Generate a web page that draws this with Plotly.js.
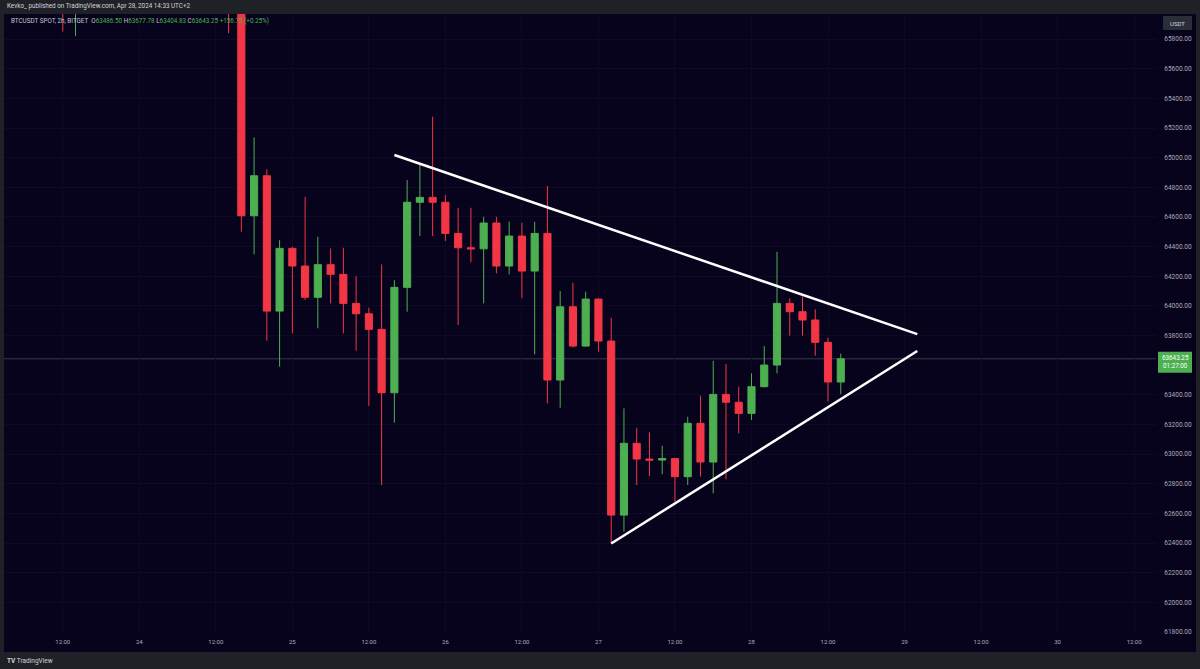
<!DOCTYPE html>
<html>
<head>
<meta charset="utf-8">
<script src="https://cdn.plot.ly/plotly-3.0.1.min.js"></script>
<style>html,body{margin:0;padding:0;background:#202127;}#chart{width:1200px;height:669px;}</style>
</head>
<body>
<div id="chart"></div>
<script>
// ---- data (BTCUSDT spot, 2h, Bitget) ----
const times = [
  '2024-04-23 12:00','2024-04-23 14:00','2024-04-24 14:00',
  '2024-04-24 16:00','2024-04-24 18:00','2024-04-24 20:00','2024-04-24 22:00',
  '2024-04-25 00:00','2024-04-25 02:00','2024-04-25 04:00','2024-04-25 06:00',
  '2024-04-25 08:00','2024-04-25 10:00','2024-04-25 12:00','2024-04-25 14:00',
  '2024-04-25 16:00','2024-04-25 18:00','2024-04-25 20:00','2024-04-25 22:00',
  '2024-04-26 00:00','2024-04-26 02:00','2024-04-26 04:00','2024-04-26 06:00',
  '2024-04-26 08:00','2024-04-26 10:00','2024-04-26 12:00','2024-04-26 14:00',
  '2024-04-26 16:00','2024-04-26 18:00','2024-04-26 20:00','2024-04-26 22:00',
  '2024-04-27 00:00','2024-04-27 02:00','2024-04-27 04:00','2024-04-27 06:00',
  '2024-04-27 08:00','2024-04-27 10:00','2024-04-27 12:00','2024-04-27 14:00',
  '2024-04-27 16:00','2024-04-27 18:00','2024-04-27 20:00','2024-04-27 22:00',
  '2024-04-28 00:00','2024-04-28 02:00','2024-04-28 04:00','2024-04-28 06:00',
  '2024-04-28 08:00','2024-04-28 10:00','2024-04-28 12:00','2024-04-28 14:00'
];
const opens = [
  66120, 66020, 66250,
  66060, 64608, 64878, 63965,
  64388, 64269, 64058, 64278,
  64213, 64017, 63947, 63842,
  63414, 64125, 64699, 64732,
  64699, 64489, 64392, 64385,
  64559, 64269, 64471, 64235,
  64489, 63500, 63994, 63729,
  64046, 63763, 62589, 63073,
  62967, 62960, 62970, 62848,
  63208, 62947, 63403, 63350,
  63275, 63455, 63601, 64017,
  63961, 63905, 63754, 63486.50
];
const highs = [
  66200, 66180, 66350,
  66150, 65137, 64921, 64444,
  64399, 64736, 64467, 64388,
  64392, 64201, 63988, 64280,
  64174, 64849, 64950, 65276,
  64748, 64662, 64662, 64601,
  64601, 64568, 64561, 64568,
  64809, 64100, 64156, 64096,
  64050, 63920, 63309, 63178,
  63147, 63057, 62975, 63252,
  63394, 63630, 63608, 63455,
  63545, 63729, 64365, 64051,
  64062, 63977, 63785, 63677.78
];
const lows = [
  65850, 65820, 65840,
  64500, 64348, 63765, 63590,
  63815, 64040, 63849, 64017,
  63815, 63698, 63325, 62792,
  63212, 63961, 64471, 64471,
  64438, 63871, 64294, 64017,
  64220, 64213, 64051, 63673,
  63343, 63313, 63720, 63725,
  63691, 62398, 62477, 62792,
  62852, 62864, 62679, 62792,
  62848, 62736, 62830, 63140,
  63230, 63450, 63545, 63799,
  63799, 63664, 63354, 63404.83
];
const closes = [
  66020, 66100, 66060,
  64608, 64878, 63965, 64388,
  64269, 64058, 64278, 64213,
  64017, 63947, 63842, 63414,
  64125, 64699, 64732, 64699,
  64489, 64392, 64385, 64559,
  64269, 64471, 64235, 64489,
  63500, 63994, 63729, 64046,
  63763, 62589, 63073, 62967,
  62960, 62970, 62848, 63208,
  62947, 63403, 63350, 63275,
  63455, 63601, 64017, 63961,
  63905, 63754, 63486.50, 63643.25
];

// trendlines drawn on the chart (time, price)
const upperLineT = ['2024-04-25 16:00', '2024-04-29 02:00'];
const upperLineP = [65018, 63810];
const lowerLineT = ['2024-04-27 02:00', '2024-04-29 02:00'];
const lowerLineP = [62397, 63696];

// axis ticks
const xTickVals = [
  '2024-04-23 12:00','2024-04-24 00:00','2024-04-24 12:00','2024-04-25 00:00',
  '2024-04-25 12:00','2024-04-26 00:00','2024-04-26 12:00','2024-04-27 00:00',
  '2024-04-27 12:00','2024-04-28 00:00','2024-04-28 12:00','2024-04-29 00:00',
  '2024-04-29 12:00','2024-04-30 00:00','2024-04-30 12:00'
];
const xTickText = ['12:00','24','12:00','25','12:00','26','12:00','27','12:00','28','12:00','29','12:00','30','12:00'];
// price-scale labels (63600 is hidden behind the last-price tag)
const yTickVals = [61800, 62000, 62200, 62400, 62600, 62800, 63000, 63200, 63400,
                   63800, 64000, 64200, 64400, 64600, 64800, 65000, 65200, 65400, 65600, 65800];

const lastClose = closes[closes.length - 1];
const lastOpen = opens[opens.length - 1];
const lastHigh = highs[highs.length - 1];
const lastLow = lows[lows.length - 1];
const prevClose = closes[closes.length - 2];
const countdown = '01:27:00';

// ---- style ----
const UP = '#4caf50', DOWN = '#f23645';
const PANE = '#08031c', FRAME = '#202127';
const TXT = '#a9acb5';
const FONT = 'Roboto, "Liberation Sans", Arial, sans-serif';

const fmt = v => v.toFixed(2);
const chg = lastClose - prevClose;

const trace = {
  type: 'candlestick',
  x: times, open: opens, high: highs, low: lows, close: closes,
  increasing: {line: {color: UP, width: 1}, fillcolor: UP},
  decreasing: {line: {color: DOWN, width: 1}, fillcolor: DOWN},
  whiskerwidth: 0,
  hoverinfo: 'skip',
  showlegend: false
};

const legendLine =
  'BTCUSDT SPOT, 2h, BITGET&nbsp;&nbsp;' +
  'O<span style="color:' + UP + '">' + fmt(lastOpen) + '</span> ' +
  'H<span style="color:' + UP + '">' + fmt(lastHigh) + '</span> ' +
  'L<span style="color:' + UP + '">' + fmt(lastLow) + '</span> ' +
  'C<span style="color:' + UP + '">' + fmt(lastClose) + '</span> ' +
  '<span style="color:' + UP + '">+' + fmt(chg) + ' (+' + (chg / prevClose * 100).toFixed(2) + '%)</span>';

const layout = {
  width: 1200, height: 669,
  margin: {l: 4, r: 44, t: 14, b: 36, pad: 0},
  paper_bgcolor: FRAME,
  plot_bgcolor: 'rgba(0,0,0,0)',
  font: {family: FONT, color: TXT, size: 6},
  boxgap: 0.2,
  showlegend: false,
  xaxis: {
    type: 'date',
    range: ['2024-04-23 02:47', '2024-04-30 15:26'],
    tickvals: xTickVals, ticktext: xTickText,
    showgrid: true, gridcolor: '#0f0926', gridwidth: 1,
    zeroline: false, showline: false,
    ticks: '', ticklabelstandoff: 4,
    tickfont: {size: 6, color: TXT, family: FONT},
    rangeslider: {visible: false},
    fixedrange: true
  },
  yaxis: {
    side: 'right',
    range: [61793.6, 65969],
    tickmode: 'array', tickvals: yTickVals, tickformat: '.2f',
    showgrid: true, gridcolor: '#0f0926', gridwidth: 1,
    zeroline: false, showline: false,
    ticks: 'outside', ticklen: 6, tickcolor: 'rgba(0,0,0,0)',
    tickfont: {size: 6.5, color: TXT, family: FONT},
    fixedrange: true
  },
  shapes: [
    // dark chart pane incl. price axis
    {type: 'rect', xref: 'paper', yref: 'paper', x0: 0, x1: 1.03472, y0: -0.03069, y1: 1,
     fillcolor: PANE, line: {width: 0}, layer: 'below'},
    // last price line
    {type: 'line', xref: 'paper', yref: 'y', x0: 0, x1: 1, y0: lastClose, y1: lastClose,
     line: {color: '#3a3452', width: 1}, layer: 'below'},
    // triangle trendlines
    {type: 'line', xref: 'x', yref: 'y', x0: upperLineT[0], x1: upperLineT[1], y0: upperLineP[0], y1: upperLineP[1],
     line: {color: '#ffffff', width: 2.5}, layer: 'above'},
    {type: 'line', xref: 'x', yref: 'y', x0: lowerLineT[0], x1: lowerLineT[1], y0: lowerLineP[0], y1: lowerLineP[1],
     line: {color: '#ffffff', width: 2.5}, layer: 'above'},
    // USDT box
    {type: 'rect', xref: 'paper', yref: 'paper', x0: 1.00608, x1: 1.03125, y0: 0.97415, y1: 0.99677,
     fillcolor: '#2a2e39', line: {width: 0}, layer: 'above'},
    // last price label box
    {type: 'rect', xref: 'paper', yref: 'y', ysizemode: 'pixel', yanchor: lastClose,
     x0: 1.00174, x1: 1.03125, y0: -14, y1: 7,
     fillcolor: UP, line: {width: 0}, layer: 'above'}
  ],
  annotations: [
    {xref: 'paper', yref: 'paper', x: 0.0009, y: 1.0129, xanchor: 'left', yanchor: 'middle', showarrow: false,
     text: 'Kevko_ published on TradingView.com, Apr 28, 2024 14:33 UTC+2', font: {size: 6.3, color: '#d1d4dc', family: FONT}},
    {xref: 'paper', yref: 'paper', x: 0.0045, y: 0.9887, xanchor: 'left', yanchor: 'middle', showarrow: false,
     text: legendLine, font: {size: 6.3, color: '#c3c6ce', family: FONT}},
    {xref: 'paper', yref: 'paper', x: 1.01866, y: 0.98546, xanchor: 'center', yanchor: 'middle', showarrow: false,
     text: 'USDT', font: {size: 6, color: '#d1d4dc', family: FONT}},
    {xref: 'paper', yref: 'y', x: 1.0165, y: lastClose, xanchor: 'center', yanchor: 'middle', showarrow: false,
     yshift: -3.5, text: fmt(lastClose) + '<br>' + countdown,
     font: {size: 6.3, color: '#ffffff', family: FONT}},
    {xref: 'paper', yref: 'paper', x: 0.0009, y: -0.04523, xanchor: 'left', yanchor: 'middle', showarrow: false,
     text: '<b>TV</b> TradingView', font: {size: 6.5, color: '#d1d4dc', family: FONT}}
  ]
};

Plotly.newPlot('chart', [trace], layout, {displayModeBar: false, staticPlot: true});
</script>
</body>
</html>
